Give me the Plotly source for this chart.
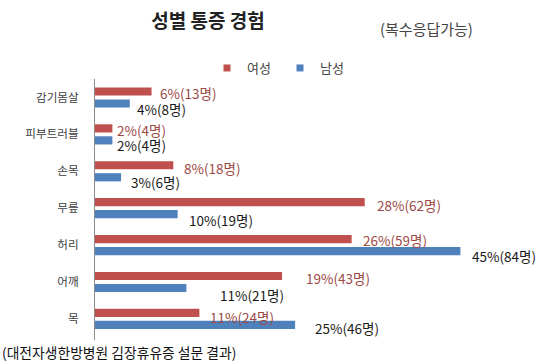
import plotly.graph_objects as go

# ---- data (top to bottom as in the chart) ----
categories = ["감기몸살", "피부트러블", "손목", "무릎", "허리", "어깨", "목"]
female_count = [13, 4, 18, 62, 59, 43, 24]
male_count = [8, 4, 6, 19, 84, 21, 46]
female_pct = [6, 2, 8, 28, 26, 19, 11]
male_pct = [4, 2, 3, 10, 45, 11, 25]
series_names = ["여성", "남성"]

title_text = "성별 통증 경험"
subtitle_text = "(복수응답가능)"
source_text = "(대전자생한방병원 김장휴유증 설문 결과)"

# ---- style ----
FONT = "Noto Sans CJK KR"
RED = "#C0504D"
BLUE = "#4F81BD"
RED_TEXT = "#9C4A46"
MALE_TEXT = "#1a1a1a"

W, H = 550, 361
ML, MR, MT, MB = 95, 20, 79, 21
BARGAP, BARGROUPGAP = 0.35, 0.32

# label offsets (px): horizontal gap after bar end, vertical drop below bar centre
f_gap = [6, 3, 9, 10, 9, 22, 9]
m_gap = [5, 3, 8, 9, 10, 32, 18]
f_drop = [2, 2, 3, 3, 1, 2, 4]
m_drop = [5, 5, 5, 6, 5, 7, 3]

fig = go.Figure()
fig.add_trace(go.Bar(y=categories, x=male_count, orientation="h", name=series_names[1],
                     marker=dict(color=BLUE, line=dict(width=0)), showlegend=False))
fig.add_trace(go.Bar(y=categories, x=female_count, orientation="h", name=series_names[0],
                     marker=dict(color=RED, line=dict(width=0)), showlegend=False))

# legend entries (small square markers)
fig.add_trace(go.Scatter(x=[None], y=[None], mode="markers", name=series_names[0],
                         marker=dict(symbol="square", size=7, color=RED)))
fig.add_trace(go.Scatter(x=[None], y=[None], mode="markers", name=series_names[1],
                         marker=dict(symbol="square", size=7, color=BLUE)))

plot_h = H - MT - MB
band = plot_h / len(categories)
slot = band * (1 - BARGAP) / 2
bar_off = slot / 2

annotations = []
for i, c in enumerate(categories):
    annotations.append(dict(x=female_count[i], y=c, xref="x", yref="y",
                            text=f"{female_pct[i]}%({female_count[i]}명)",
                            showarrow=False, xanchor="left", yanchor="middle",
                            xshift=f_gap[i], yshift=bar_off - f_drop[i],
                            font=dict(family=FONT, size=13.5, color=RED_TEXT)))
    annotations.append(dict(x=male_count[i], y=c, xref="x", yref="y",
                            text=f"{male_pct[i]}%({male_count[i]}명)",
                            showarrow=False, xanchor="left", yanchor="middle",
                            xshift=m_gap[i], yshift=-bar_off - m_drop[i],
                            font=dict(family=FONT, size=13.5, color=MALE_TEXT)))

plot_w = W - ML - MR
def px_x(px):
    return (px - ML) / plot_w
def px_y(py):
    return (H - MB - py) / plot_h

annotations.append(dict(text=subtitle_text, xref="paper", yref="paper",
                        x=px_x(426), y=px_y(29), xanchor="center", yanchor="middle",
                        showarrow=False, font=dict(family=FONT, size=15, color="#444444")))
annotations.append(dict(text=source_text, xref="paper", yref="paper",
                        x=px_x(0), y=px_y(352), xanchor="left", yanchor="middle",
                        showarrow=False, font=dict(family=FONT, size=13.8, color="#111111")))

fig.update_layout(
    width=W, height=H,
    margin=dict(l=ML, r=MR, t=MT, b=MB, pad=0),
    paper_bgcolor="white", plot_bgcolor="white",
    barmode="group", bargap=BARGAP, bargroupgap=BARGROUPGAP,
    title=dict(text="<b>" + title_text + "</b>", x=208 / W, xanchor="center",
               y=1 - 21 / H, yanchor="middle",
               font=dict(family=FONT, size=19, color="#222222")),
    legend=dict(orientation="h", x=px_x(207), y=px_y(68), xanchor="left", yanchor="middle",
                font=dict(family=FONT, size=13, color="#444444"),
                bgcolor="rgba(0,0,0,0)", itemwidth=30, entrywidth=28, entrywidthmode="pixels",
                traceorder="normal"),
    xaxis=dict(range=[0, 100], showticklabels=False, showgrid=False, zeroline=False,
               showline=False, ticks="", fixedrange=True),
    yaxis=dict(type="category", categoryorder="array", categoryarray=categories[::-1],
               showline=True, linecolor="#8c8c8c", linewidth=1, showgrid=False,
               zeroline=False, ticks="", ticklabelstandoff=13, fixedrange=True,
               tickfont=dict(family=FONT, size=11.6, color="#404040")),
    annotations=annotations,
    font=dict(family=FONT),
)

fig.write_html("out.html", config={"displayModeBar": False},
               post_script="document.body.style.margin='0';document.body.style.padding='0';")
